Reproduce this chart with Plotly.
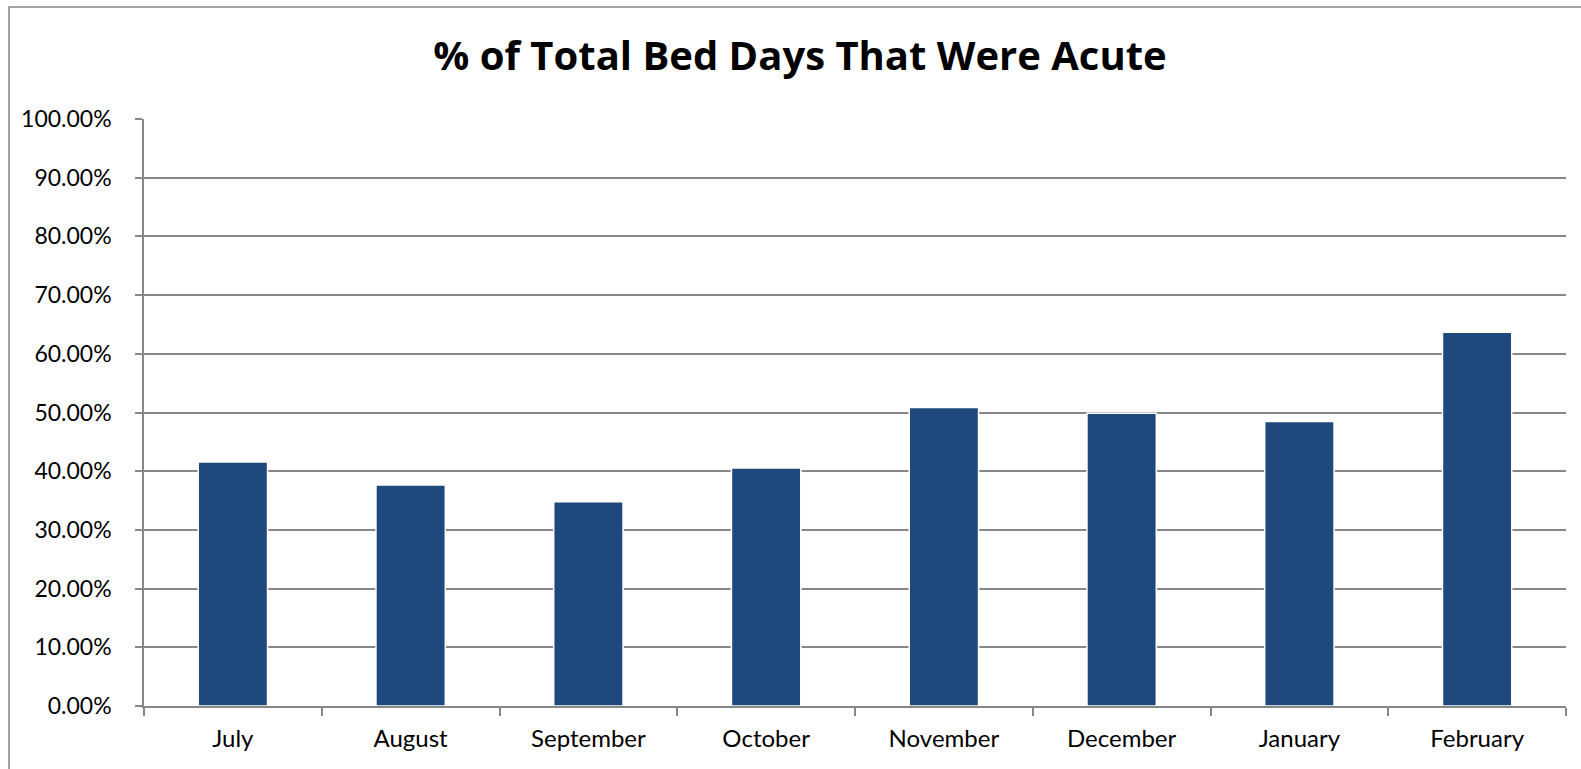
import plotly.graph_objects as go

months = ["July", "August", "September", "October", "November", "December", "January", "February"]
acute_pct = [41.55, 37.63, 34.8, 40.55, 50.86, 49.89, 48.47, 63.68]
y_ticks = [0, 10, 20, 30, 40, 50, 60, 70, 80, 90, 100]
y_tick_labels = [f"{v:.2f}%" for v in y_ticks]

W, H = 1581, 769
L, R, T, B = 144, 15, 119, 63
pw, ph = W - L - R, H - T - B

fig = go.Figure()
fig.add_trace(go.Bar(
    x=months, y=acute_pct,
    marker=dict(color="#1F497D", line=dict(color="white", width=1.5)),
    hoverinfo="x+y",
))

fig.update_layout(
    width=W, height=H,
    margin=dict(l=L, r=R, t=T, b=B, pad=0),
    paper_bgcolor="white", plot_bgcolor="white",
    bargap=0.61,
    showlegend=False,
    font=dict(family="Lato, Calibri, sans-serif", color="black"),
    title=dict(text="<b>% of Total Bed Days That Were Acute</b>",
               x=800 / W, xanchor="center", xref="container",
               y=1 - 56 / H, yanchor="middle", yref="container",
               font=dict(size=40, family="Open Sans, sans-serif", color="black")),
    shapes=[dict(type="rect", xref="paper", yref="paper",
                 x0=(9 - L) / pw, x1=(1600 - L) / pw,
                 y0=(H - B - 800) / ph, y1=(H - B - 7) / ph,
                 line=dict(color="#878787", width=1.5), fillcolor="rgba(0,0,0,0)", layer="below")],
)
fig.update_xaxes(
    type="category", showgrid=False, showline=True, linecolor="#878787", linewidth=1.5,
    ticks="outside", tickson="boundaries", ticklen=8, tickcolor="#878787", tickwidth=1.5,
    tickfont=dict(size=24, family="Lato, sans-serif", color="black"),
    ticklabelstandoff=10,
    range=[-0.5, len(months) - 0.5],
)
fig.update_yaxes(
    range=[0, 100], tickvals=y_ticks, ticktext=y_tick_labels,
    showgrid=True, gridcolor="#878787", gridwidth=1.5,
    showline=True, linecolor="#878787", linewidth=1.5,
    ticks="outside", ticklen=7, tickcolor="#878787", tickwidth=1.5,
    tickfont=dict(size=23, family="Lato, sans-serif", color="black"),
    ticklabelstandoff=19,
    zeroline=False,
)

fig.write_html("out.html", config={"displayModeBar": False},
               post_script="document.body.style.margin='0px';document.body.style.overflow='hidden';")
